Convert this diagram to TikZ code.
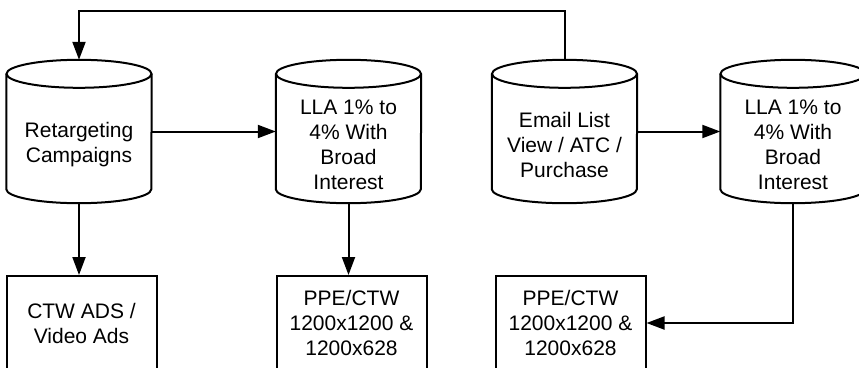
\documentclass[tikz,border=0pt]{standalone}
\usepackage{fontspec}
\setmainfont{Liberation Sans}
\usetikzlibrary{arrows.meta,positioning,calc}

\begin{document}
\begin{tikzpicture}[x=1pt, y=1pt,
  %% ── Node styles ──────────────────────────────────────────────────────────
  %% store  : cylinder frame, 145 x 143 (outline drawn below, rx=72.5, ry=14)
  %% lbl    : text inside a cylinder, sits 13.5 below its centre
  %% outbox : ad-format boxes, run off the bottom edge of the page
  store/.style={rectangle, minimum width=145pt, minimum height=143pt,
                inner sep=0pt},
  lbl/.style={font=\fontsize{21}{25}\selectfont, align=center, inner sep=0pt,
              yshift=-13.5pt},
  outbox/.style={draw, line width=2pt, minimum width=150pt,
                 minimum height=94pt, inner sep=0pt,
                 font=\fontsize{21}{25}\selectfont, align=center},
  cyl/.style={line width=2pt},
  %% ── Arrow styles ─────────────────────────────────────────────────────────
  arr/.style={-{Triangle[length=18pt, width=13pt]}, line width=2pt}
]

\useasboundingbox[fill=white] (0,0) rectangle (859,-367);

%% ── ROW 1  Audiences  (y = -131.5) ──────────────────────────────────────────
\node[store] (ret)   at ( 79.0,-131.5) {};
\node[store] (lla1)  at (348.5,-131.5) {};
\node[store] (email) at (564.5,-131.5) {};
\node[store] (lla2)  at (793.0,-131.5) {};

\node[lbl] (ret-t)   at (ret)   {Retargeting\\Campaigns};
\node[lbl] (lla1-t)  at (lla1)  {LLA 1\% to\\4\% With\\Broad\\Interest};
\node[lbl] (email-t) at (email) {Email List\\View / ATC /\\Purchase};
\node[lbl] (lla2-t)  at (lla2)  {LLA 1\% to\\4\% With\\Broad\\Interest};

%% ── Cylinder outlines ───────────────────────────────────────────────────────
\foreach \n in {ret,lla1,email,lla2} {
  \draw[cyl] ($(\n.north)+(0,-14)$) ellipse [x radius=72.5, y radius=14];
  \draw[cyl] ($(\n.north west)+(0,-14)$) -- ($(\n.south west)+(0,14)$)
    arc[start angle=180, end angle=360, x radius=72.5, y radius=14]
    -- ($(\n.north east)+(0,-14)$);
}

%% ── ROW 2  Ad formats  (y = -323) ───────────────────────────────────────────
\node[outbox] (ctw)  at ( 81.5,-323) {CTW ADS /\\Video Ads};
\node[outbox] (ppe1) at (351.5,-323) {PPE/CTW\\1200x1200 \&\\1200x628};
\node[outbox] (ppe2) at (570.5,-323) {PPE/CTW\\1200x1200 \&\\1200x628};

%% ── Arrows ──────────────────────────────────────────────────────────────────
%% Email list loops back over the top into retargeting
\draw[arr] (email.north) -- ++(0,49) -| (ret.north);
\draw[arr] (ret)  -- (lla1);
\draw[arr] (email) -- (lla2);
\draw[arr] (ret.south)  -- (ret.south |- ctw.north);
\draw[arr] (lla1.south) -- (lla1.south |- ppe1.north);
\draw[arr] (lla2.south) |- (ppe2.east);

\end{tikzpicture}
\end{document}
